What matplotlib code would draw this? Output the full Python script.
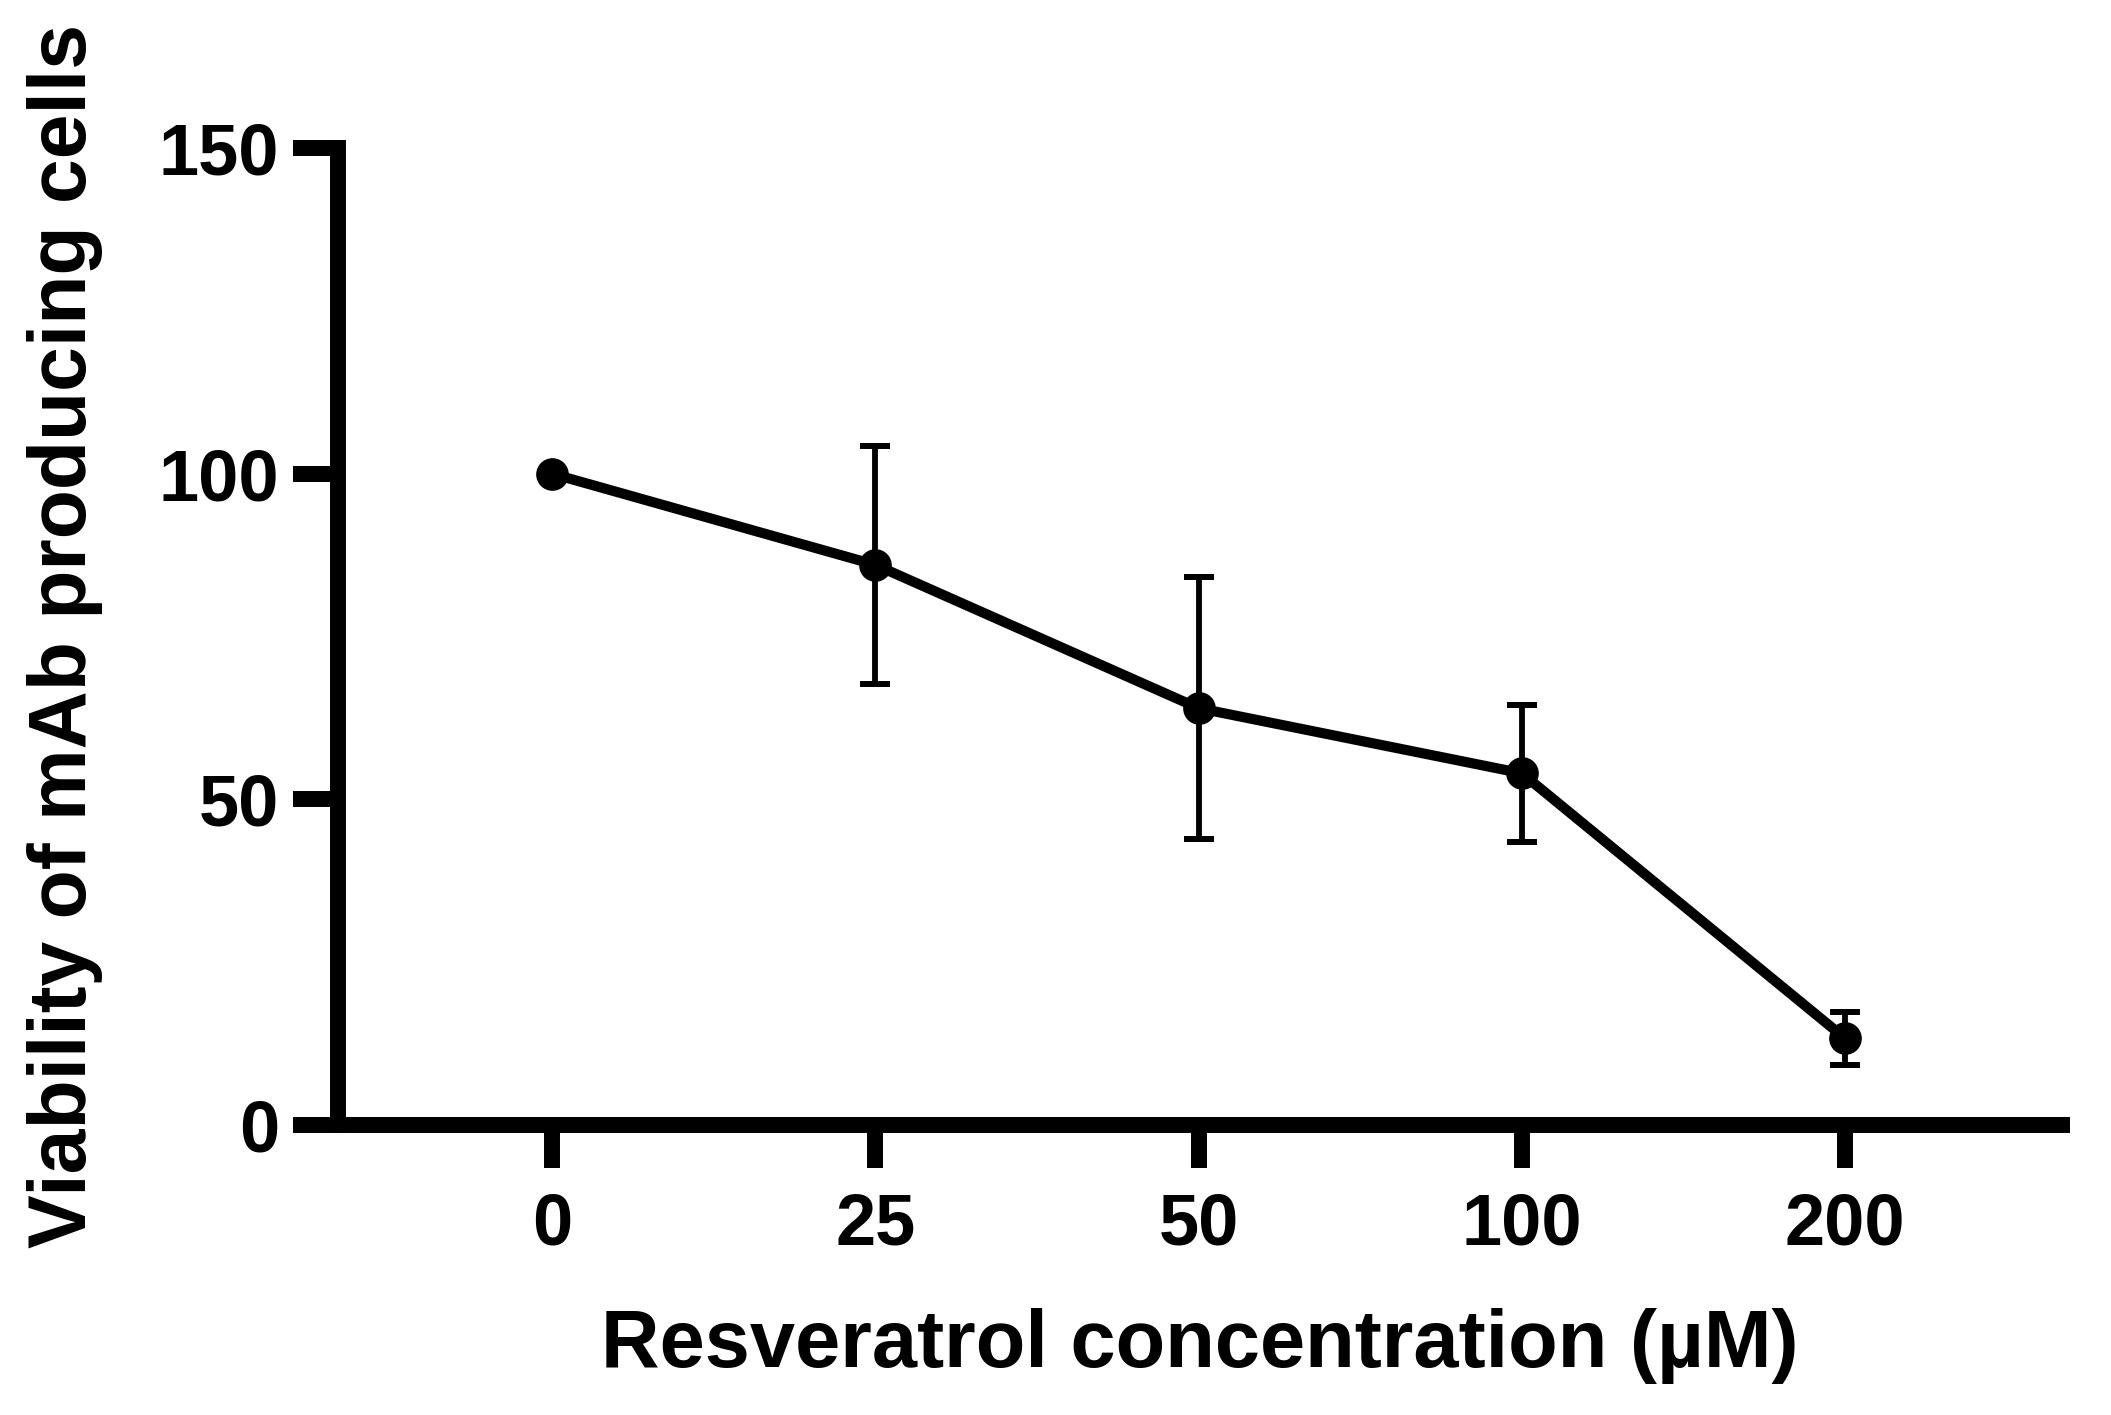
import matplotlib
matplotlib.use('Agg')
import matplotlib.pyplot as plt

# resveratrol concentrations (categorical) and viability (mean, SD)
concentrations = ['0', '25', '50', '100', '200']
viability = [100.0, 86.0, 64.0, 54.0, 13.3]
viability_sd = [0.0, 18.3, 20.1, 10.5, 4.1]
y_ticks = [0, 50, 100, 150]

plt.rcParams['font.family'] = ['Liberation Sans', 'DejaVu Sans']
plt.rcParams['font.weight'] = 'bold'

W, H = 2111, 1415
fig = plt.figure(figsize=(W / 100, H / 100), dpi=100)
ax = fig.add_axes([338 / W, 1 - 1125 / H, (2062 - 338) / W, (1125 - 148) / H])

x = list(range(len(concentrations)))
ax.errorbar(x, viability, yerr=viability_sd, color='black', lw=7.3,
            marker='o', ms=22.5, elinewidth=4.2, capsize=11, capthick=4.3,
            zorder=3)

ax.set_xlim(-0.662, 4.671)
ax.set_ylim(0, 150)
ax.set_xticks(x)
ax.set_xticklabels(concentrations)
ax.set_yticks(y_ticks)

for side in ('top', 'right'):
    ax.spines[side].set_visible(False)
for side in ('left', 'bottom'):
    ax.spines[side].set_linewidth(11.5)
    ax.spines[side].set_capstyle('projecting')

ax.tick_params(axis='y', length=32.4, width=11.5, pad=10, labelsize=52)
ax.tick_params(axis='x', length=31, width=11.5, pad=17, labelsize=52)
for lab in ax.get_xticklabels() + ax.get_yticklabels():
    lab.set_fontweight('bold')

ax.set_xlabel('Resveratrol concentration (µM)', fontsize=58.5, fontweight='bold', labelpad=35)
ax.set_ylabel('Viability of mAb producing cells', fontsize=58, fontweight='bold', labelpad=40)

fig.savefig('out.png', dpi=100, facecolor='white')
